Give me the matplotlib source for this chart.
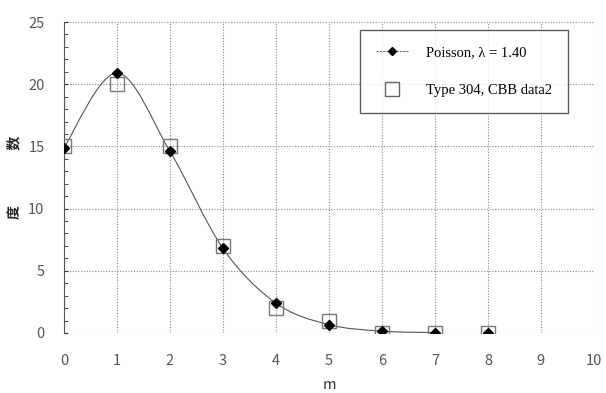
import matplotlib
matplotlib.use("Agg")
import matplotlib.pyplot as plt
import numpy as np
from matplotlib.path import Path
from matplotlib.patches import PathPatch
from matplotlib.lines import Line2D

plt.rcParams['font.family'] = ['Noto Sans CJK SC', 'DejaVu Sans']

m = [0, 1, 2, 3, 4, 5, 6, 7, 8]
poisson = [14.9, 20.9, 14.6, 6.8, 2.4, 0.67, 0.15, 0.03, 0.006]
observed = [15, 20, 15, 7, 2, 1, 0, 0, 0]
poisson_label = "Poisson, λ = 1.40"
observed_label = "Type 304, CBB data2"
xlabel = "m"
ylabel = "度　　　　数"

fig = plt.figure(figsize=(6.06, 3.93), dpi=100)
ax = fig.add_axes([0.1056, 0.1527, 0.8744, 0.7913])

# smooth curve through Poisson points (Catmull-Rom -> Bezier)
x = np.array(m[:8], float)
y = np.array(poisson[:8], float)
verts = [(x[0], y[0])]
codes = [Path.MOVETO]
n = len(x)
for i in range(n - 1):
    p0 = (x[i - 1], y[i - 1]) if i > 0 else (x[i], y[i])
    p1 = (x[i], y[i])
    p2 = (x[i + 1], y[i + 1])
    p3 = (x[i + 2], y[i + 2]) if i + 2 < n else (x[i + 1], y[i + 1])
    c1 = (p1[0] + (p2[0] - p0[0]) / 6, p1[1] + (p2[1] - p0[1]) / 6)
    c2 = (p2[0] - (p3[0] - p1[0]) / 6, p2[1] - (p3[1] - p1[1]) / 6)
    verts += [c1, c2, p2]
    codes += [Path.CURVE4] * 3
ax.add_patch(PathPatch(Path(verts, codes), facecolor='none', edgecolor='#555555', lw=0.8, zorder=3))

ax.plot(m, observed, linestyle='none', marker='s', markersize=10, markerfacecolor='none',
        markeredgecolor='#777777', markeredgewidth=1.0, zorder=4)
ax.plot(m, poisson, linestyle='none', marker='D', markersize=5.5, color='black', zorder=5)

ax.set_xlim(0, 10)
ax.set_ylim(0, 25)
ax.set_xticks(range(0, 11))
ax.set_yticks(range(0, 26, 5))
ax.set_yticks(range(0, 26), minor=True)
ax.grid(True, which='major', linestyle=(0, (1, 1.5)), color='#888888', linewidth=0.8)
for s in ['top', 'right', 'bottom']:
    ax.spines[s].set_visible(False)
ax.spines['left'].set_color('#555555')
ax.spines['left'].set_linewidth(0.8)
ax.tick_params(axis='y', which='both', direction='in', length=3, color='#333333', labelsize=10.5, labelcolor='#555555', pad=14)
ax.tick_params(axis='x', which='both', length=0, labelsize=10.5, labelcolor='#555555', pad=15)
ax.set_xlabel(xlabel, fontsize=10.5, color='#333333', labelpad=7)
ax.set_ylabel(ylabel, fontsize=10, color='#222222', labelpad=5, fontweight='bold')

h1 = Line2D([], [], color='#666666', lw=0.8, linestyle=(0, (2, 1)), marker='D', markersize=4.5,
            markerfacecolor='black', markeredgecolor='black')
h2 = Line2D([], [], linestyle='none', marker='s', markersize=10, markerfacecolor='none',
            markeredgecolor='#666666')
leg = ax.legend([h1, h2], [poisson_label, observed_label], loc='upper right',
                bbox_to_anchor=(0.951, 0.974), borderaxespad=0, frameon=True, fancybox=False,
                prop={'family': ['Liberation Serif', 'DejaVu Serif'], 'size': 10.5},
                handlelength=2.2, labelspacing=1.7, borderpad=1.1, handletextpad=1.2)
leg.get_frame().set_edgecolor('#333333')
leg.get_frame().set_linewidth(1.0)

fig.savefig("out.png", dpi=100)
